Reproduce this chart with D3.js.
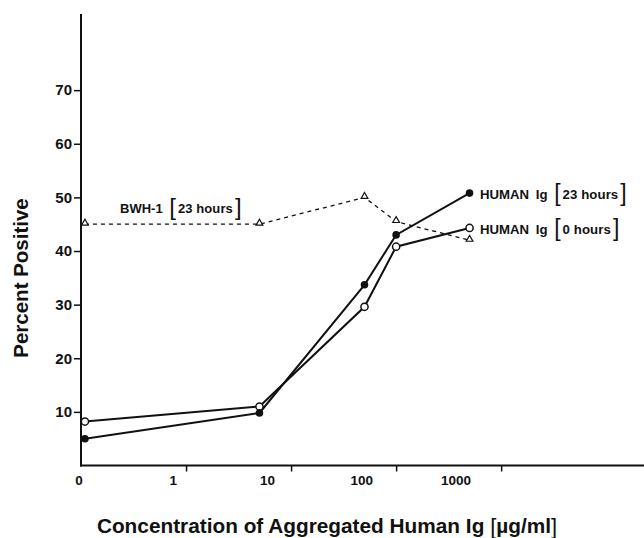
<!DOCTYPE html>
<html><head><meta charset="utf-8">
<script src="https://cdn.jsdelivr.net/npm/d3@7"></script>
<style>
html,body{margin:0;padding:0;background:#fff;}
svg text{font-family:"Liberation Sans",Arial,Helvetica,sans-serif;fill:#111;}
</style></head>
<body><svg id="chart" width="644" height="538"></svg>
<script>
// Data
const concentrations = [0, 5, 50, 100, 500];
const human23 = [5.0, 9.8, 33.7, 43.0, 50.8];
const human0 = [8.2, 11.0, 29.6, 40.8, 44.3];
const bwh1 = [45.0, 45.0, 50.0, 45.5, 42.0];
const xTickValues = [1, 10, 100, 1000];
const xTickLabels = ["0", "1", "10", "100", "1000"];
const yTickValues = [10, 20, 30, 40, 50, 60, 70];

const svg = d3.select("#chart");
const x = d3.scaleLog().domain([0.1, 22900]).range([81, 644]);
const y = d3.scaleLinear().domain([0, 84.2]).range([465.5, 14]);
const xPos = c => x(c === 0 ? 0.109 : c);
const ink = "#111";

// axes
const yAxis = svg.append("g").attr("transform", "translate(81,0)")
  .call(d3.axisLeft(y).tickValues(yTickValues).tickSize(7).tickPadding(2).tickFormat(d3.format("d")));
yAxis.select(".domain").remove();
yAxis.selectAll(".tick line").attr("stroke", ink).attr("stroke-width", 1.5);
yAxis.selectAll(".tick text").attr("font-weight", "bold").attr("fill", ink)
  .style("font-family", "'Liberation Sans Narrow','Liberation Sans',sans-serif").attr("font-size", 15);
svg.append("line").attr("x1", 81).attr("x2", 81).attr("y1", y(84.2)).attr("y2", y(0) + 1)
  .attr("stroke", ink).attr("stroke-width", 2);

const xAxis = svg.append("g").attr("transform", `translate(0,${y(0)})`)
  .call(d3.axisBottom(x).tickValues(xTickValues).tickSize(6).tickFormat(""));
xAxis.select(".domain").remove();
xAxis.selectAll(".tick line").attr("stroke", ink).attr("stroke-width", 1.5);
svg.append("line").attr("x1", 80).attr("x2", 644).attr("y1", y(0)).attr("y2", y(0))
  .attr("stroke", ink).attr("stroke-width", 2);

// tick labels (printed offset from the tick marks in the original)
const labelScale = d3.scalePoint().domain(xTickLabels).range([79, 456]);
svg.append("g").selectAll("text").data(xTickLabels).join("text")
  .attr("x", d => labelScale(d)).attr("y", 485)
  .attr("text-anchor", "middle").attr("font-size", 13.5).attr("font-weight", "bold")
  .style("font-family", "'Liberation Sans Narrow','Liberation Sans',sans-serif")
  .text(d => d);

// axis titles
svg.append("text").attr("transform", "translate(28,278) rotate(-90)")
  .attr("text-anchor", "middle").attr("font-size", 20.5).attr("font-weight", "bold")
  .text("Percent Positive");

const xt = svg.append("text").attr("x", 327).attr("y", 533).attr("text-anchor", "middle")
  .attr("font-size", 20.8).attr("font-weight", "bold");
xt.append("tspan").text("Concentration of Aggregated Human Ig ");
xt.append("tspan").attr("font-weight", "normal").attr("font-size", 22).attr("dy", 1).text("[");
xt.append("tspan").attr("dy", -1).text("\u00b5g/ml");
xt.append("tspan").attr("font-weight", "normal").attr("font-size", 22).attr("dy", 1).text("]");

// lines
const pts = vals => concentrations.map((c, i) => [xPos(c), y(vals[i])]);
const line = d3.line();
svg.append("path").attr("d", line(pts(bwh1))).attr("fill", "none").attr("stroke", ink)
  .attr("stroke-width", 1.3).attr("stroke-dasharray", "4,4");
svg.append("path").attr("d", line(pts(human0))).attr("fill", "none").attr("stroke", ink).attr("stroke-width", 2);
svg.append("path").attr("d", line(pts(human23))).attr("fill", "none").attr("stroke", ink).attr("stroke-width", 2);

// markers
const tri = d3.symbol().type(d3.symbolTriangle).size(20);
svg.append("g").selectAll("path").data(pts(bwh1)).join("path")
  .attr("d", tri).attr("transform", d => `translate(${d[0]},${d[1] - 1})`)
  .attr("fill", "#fff").attr("stroke", ink).attr("stroke-width", 1.2);
svg.append("g").selectAll("circle").data(pts(human0)).join("circle")
  .attr("cx", d => d[0]).attr("cy", d => d[1]).attr("r", 3.6)
  .attr("fill", "#fff").attr("stroke", ink).attr("stroke-width", 1.5);
svg.append("g").selectAll("circle").data(pts(human23)).join("circle")
  .attr("cx", d => d[0]).attr("cy", d => d[1]).attr("r", 3.8)
  .attr("fill", ink);

// annotations
function label(xp, yp, name, hrs, weight, size, bsize) {
  const t = svg.append("text").attr("x", xp).attr("y", yp).attr("font-size", size).attr("font-weight", weight);
  t.append("tspan").attr("word-spacing", 3).text(name + " ");
  t.append("tspan").attr("font-weight", "normal").attr("font-size", bsize).attr("dy", 1.5).text("[");
  t.append("tspan").attr("dy", -1.5).attr("dx", 2).attr("letter-spacing", 0.1).text(hrs);
  t.append("tspan").attr("font-weight", "normal").attr("font-size", bsize).attr("dy", 1.5).attr("dx", 2).text("]");
}
label(120, 213, "BWH-1", "23 hours", "bold", 13, 24);
label(480, 199, "HUMAN Ig", "23 hours", "bold", 13.2, 23);
label(480, 234, "HUMAN Ig", "0 hours", "bold", 13.2, 23);
</script></body></html>
